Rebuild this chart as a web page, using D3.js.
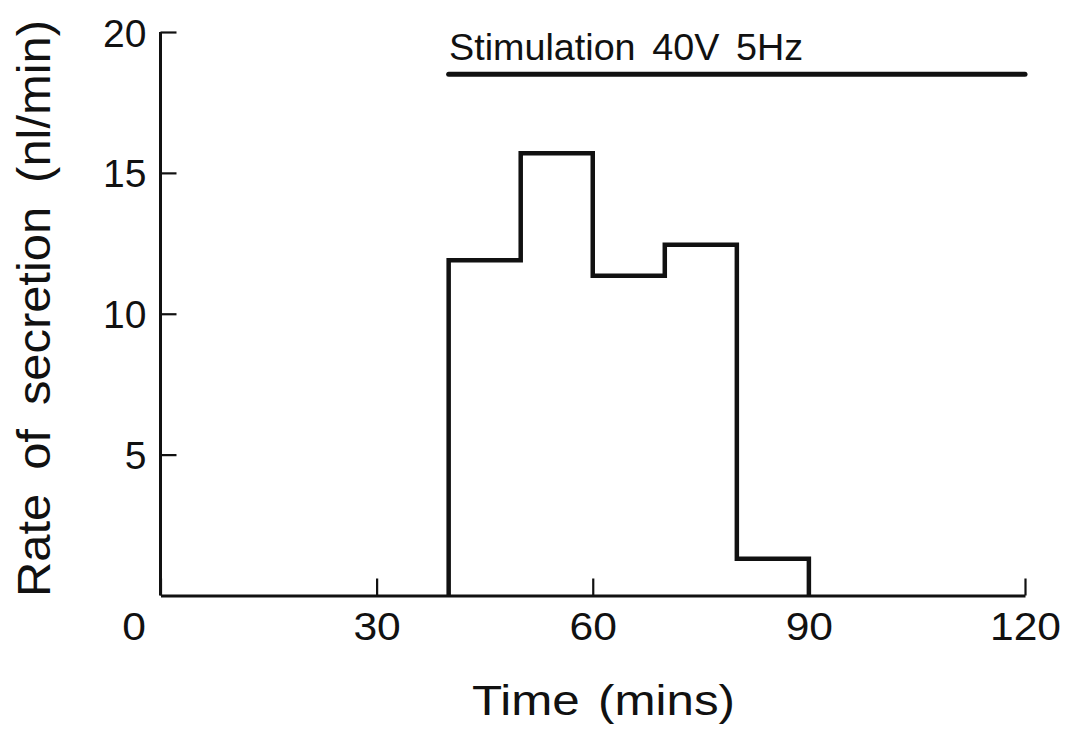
<!DOCTYPE html>
<html>
<head>
<meta charset="utf-8">
<script src="https://cdn.jsdelivr.net/npm/d3@7"></script>
<style>
  html, body { margin: 0; padding: 0; background: #fff; }
  svg { display: block; font-family: "Liberation Sans", Arial, Helvetica, sans-serif; }
</style>
</head>
<body>
<svg id="chart" width="1074" height="734"></svg>
<script>
// ---- data ----
const binEdges = [40, 50, 60, 70, 80, 90];          // minutes
const rates = [11.9, 15.7, 11.35, 12.45, 1.3];      // nl/min per 10-min bin
const xTicks = [0, 30, 60, 90, 120];
const yTicks = [5, 10, 15, 20];
const stimPeriod = [40, 120];
const stimLevel = 18.5;
const stimLabel = "Stimulation 40V 5Hz";
const xTitle = "Time (mins)";
const yTitle = "Rate of secretion (nl/min)";

// ---- setup ----
const svg = d3.select("#chart");
const ink = "#111";
const x = d3.scaleLinear().domain([0, 120]).range([160.5, 1025]);
const y = d3.scaleLinear().domain([0, 20]).range([595.5, 32]);

function stretch(sel, f) {
  sel.each(function () {
    const w = this.getComputedTextLength();
    d3.select(this).attr("textLength", w * f).attr("lengthAdjust", "spacingAndGlyphs");
  });
}
function fitTo(sel, len) {
  sel.attr("textLength", len).attr("lengthAdjust", "spacingAndGlyphs");
}

// ---- x axis ----
const gx = svg.append("g").attr("transform", `translate(0,${y(0)})`)
  .call(d3.axisBottom(x).tickValues(xTicks).tickSizeInner(-17).tickSizeOuter(0).tickFormat(d3.format("d")));
gx.select(".domain").attr("stroke", ink).attr("stroke-width", 3);
gx.selectAll(".tick line").attr("stroke", ink).attr("stroke-width", 2.2);
gx.selectAll(".tick text")
  .attr("y", 44.5).attr("dy", null)
  .attr("fill", ink).attr("font-size", 38)
  .attr("dx", d => d === 0 ? -27 : 0)
  .call(stretch, 1.12);

// ---- y axis ----
const gy = svg.append("g").attr("transform", `translate(${x(0)},0)`)
  .call(d3.axisLeft(y).tickValues(yTicks).tickSizeInner(-16).tickSizeOuter(0).tickPadding(14));
gy.select(".domain").attr("stroke", ink).attr("stroke-width", 3)
  .attr("d", `M0,${y(0)}V${y(20)}`);
gy.selectAll(".tick line").attr("stroke", ink).attr("stroke-width", 2.2);
gy.selectAll(".tick text").attr("fill", ink).attr("font-size", 39).attr("dy", "0.36em");

// ---- step histogram ----
const pts = [[binEdges[0], 0]];
rates.forEach((r, i) => pts.push([binEdges[i], r]));
pts.push([binEdges[binEdges.length - 1], rates[rates.length - 1]]);
pts.push([binEdges[binEdges.length - 1], 0]);
svg.append("path")
  .attr("d", d3.line().x(d => x(d[0])).y(d => y(d[1])).curve(d3.curveStepAfter)(pts))
  .attr("fill", "none").attr("stroke", ink).attr("stroke-width", 4.5)
  .attr("stroke-linejoin", "miter");

// ---- stimulation bar ----
svg.append("line")
  .attr("x1", x(stimPeriod[0])).attr("x2", x(stimPeriod[1]))
  .attr("y1", y(stimLevel)).attr("y2", y(stimLevel))
  .attr("stroke", ink).attr("stroke-width", 5).attr("stroke-linecap", "round");
svg.append("text")
  .attr("x", 449).attr("y", 60)
  .attr("font-size", 37).attr("fill", ink)
  .attr("word-spacing", 6)
  .text(stimLabel)
  .call(fitTo, 354);

// ---- axis titles ----
svg.append("text")
  .attr("x", 472).attr("y", 715)
  .attr("font-size", 42).attr("fill", ink)
  .attr("word-spacing", 4)
  .text(xTitle)
  .call(fitTo, 263);

svg.append("text")
  .attr("transform", `translate(50,597) rotate(-90)`)
  .attr("font-size", 47).attr("fill", ink)
  .attr("word-spacing", 10)
  .text(yTitle)
  .call(fitTo, 577);
</script>
</body>
</html>
